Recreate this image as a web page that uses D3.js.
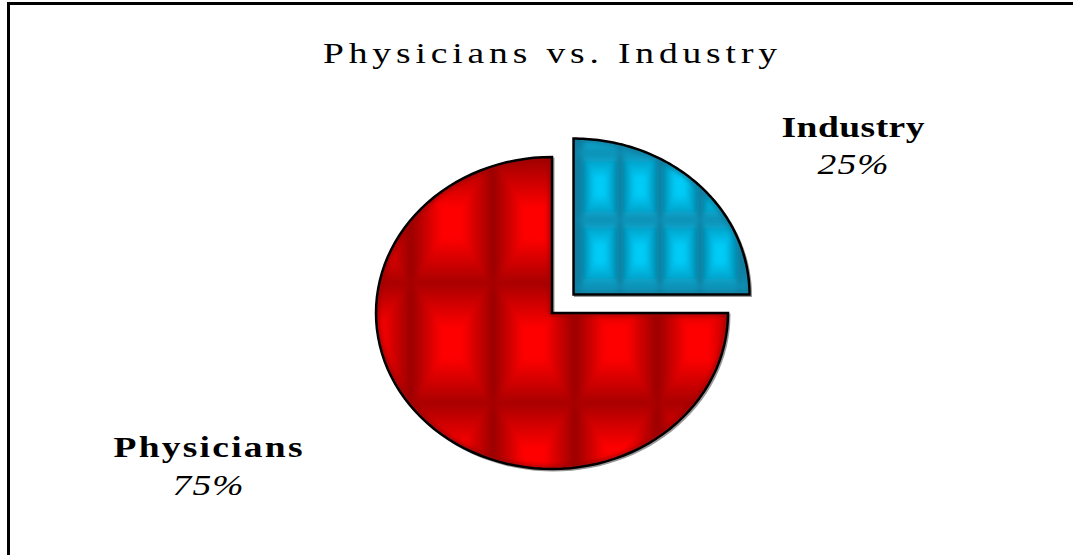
<!DOCTYPE html>
<html>
<head>
<meta charset="utf-8">
<script src="https://cdn.jsdelivr.net/npm/d3@7"></script>
<style>
  body { margin: 0; background: #fff; }
  svg { display: block; }
  text { font-family: "Liberation Serif", "Times New Roman", serif; fill: #000; }
</style>
</head>
<body>
<div id="chart"></div>
<script>
//----------------------------------------------------------------
// données
//----------------------------------------------------------------
var titre = "Physicians vs. Industry";
var categories = ["Industry", "Physicians"];
var valeurs = [25, 75];
var etiquettes = ["25%", "75%"];

largeurSvg = 1073; hauteurSvg = 555;

var svg = d3.select("#chart").append("svg")
    .attr("width", largeurSvg)
    .attr("height", hauteurSvg);

// couleurs des textures (clair au centre, foncé sur les bords)
var couleurs = {
  "Industry":   {clair: "#00ccf8", moyen: "#0a8fb4", fonce: "#08789a", tuile: [40, 67], decal: [580, 153]},
  "Physicians": {clair: "#ff0000", moyen: "#a80000", fonce: "#9a0000", tuile: [82, 120], decal: [411, 163]}
};

//----------------------------------------------------------------
// textures en "coussin" (dégradés en pyramide)
//----------------------------------------------------------------
var defs = svg.append("defs");

defs.append("filter")
  .attr("id", "flou")
  .append("feGaussianBlur").attr("stdDeviation", 2.5);

categories.forEach(function(cat, i) {
  var c = couleurs[cat];
  var w = c.tuile[0], h = c.tuile[1];
  var id = "tex" + i;

  var cotes = [
    {nom: "h", x1: 0, y1: 0, x2: 0, y2: 1, fonce: c.moyen, pts: [[0,0],[w,0],[w/2,h/2]]},
    {nom: "b", x1: 0, y1: 1, x2: 0, y2: 0, fonce: c.moyen, pts: [[0,h],[w,h],[w/2,h/2]]},
    {nom: "g", x1: 0, y1: 0, x2: 1, y2: 0, fonce: c.fonce, pts: [[0,0],[0,h],[w/2,h/2]]},
    {nom: "d", x1: 1, y1: 0, x2: 0, y2: 0, fonce: c.fonce, pts: [[w,0],[w,h],[w/2,h/2]]}
  ];
  cotes.forEach(function(s) {
    var g = defs.append("linearGradient")
      .attr("id", id + s.nom)
      .attr("x1", s.x1).attr("y1", s.y1).attr("x2", s.x2).attr("y2", s.y2);
    g.append("stop").attr("offset", "0").attr("stop-color", s.fonce);
    g.append("stop").attr("offset", "0.75").attr("stop-color", c.clair);
    g.append("stop").attr("offset", "1").attr("stop-color", c.clair);
  });

  var p = defs.append("pattern")
    .attr("id", id)
    .attr("patternUnits", "userSpaceOnUse")
    .attr("x", c.decal[0]).attr("y", c.decal[1])
    .attr("width", w).attr("height", h);
  p.append("rect").attr("width", w).attr("height", h).attr("fill", c.clair);
  cotes.forEach(function(s) {
    p.append("polygon")
      .attr("points", s.pts.map(function(q) { return q.join(","); }).join(" "))
      .attr("fill", "url(#" + id + s.nom + ")")
      .attr("stroke", "url(#" + id + s.nom + ")")
      .attr("stroke-width", 0.6);
  });
});

//----------------------------------------------------------------
// cadre (seulement haut et gauche visibles)
//----------------------------------------------------------------
svg.append("rect")
  .attr("x", 8.5).attr("y", 3.5)
  .attr("width", 1200).attr("height", 700)
  .attr("fill", "none").attr("stroke", "#000").attr("stroke-width", 3);

//----------------------------------------------------------------
// texte étiré horizontalement (comme la source)
//----------------------------------------------------------------
var etirement = 1.25;

function texte(x, y, contenu, taille, largeur, style) {
  var t = svg.append("text")
    .attr("transform", "translate(" + x + "," + y + ") scale(" + etirement + ",1)")
    .attr("text-anchor", "middle")
    .attr("font-size", taille)
    .text(contenu);
  if (largeur) t.attr("textLength", largeur / etirement).attr("lengthAdjust", "spacing");
  if (style === "gras") t.attr("font-weight", "bold");
  if (style === "italique") t.attr("font-style", "italic");
  return t;
}

// titre
texte(550, 63, titre, 30, 454);

//----------------------------------------------------------------
// camembert elliptique
//----------------------------------------------------------------
var centre = [552, 313], rx = 176, ry = 156, eclat = 29;

var pie = d3.pie().sort(null).value(function(d) { return d; });
var parts = pie(valeurs);

var ligne = d3.line();

function cheminPart(d, i) {
  var cx = centre[0], cy = centre[1];
  if (categories[i] === "Industry") {
    var m = (d.startAngle + d.endAngle) / 2;
    cx += eclat * Math.sin(m) * 1.05;
    cy -= eclat * Math.cos(m) * 0.9;
  }
  var n = 90, pts = [[cx, cy]];
  for (var k = 0; k <= n; k++) {
    var a = d.startAngle + (d.endAngle - d.startAngle) * k / n;
    pts.push([cx + rx * Math.sin(a), cy - ry * Math.cos(a)]);
  }
  return ligne(pts) + "Z";
}

// découpes pour garder le flou à l'intérieur des parts
parts.forEach(function(d, i) {
  defs.append("clipPath").attr("id", "clip" + i)
    .append("path").attr("d", cheminPart(d, i));
});

var g = svg.append("g");

// ombre légère
g.selectAll("path.ombre")
  .data(parts)
  .enter().append("path")
    .attr("class", "ombre")
    .attr("d", function(d, i) { return cheminPart(d, i); })
    .attr("transform", "translate(1.5,1.5)")
    .attr("fill", "none")
    .attr("stroke", "#999")
    .attr("stroke-width", 2);

// remplissage texturé
g.selectAll("g.remplissage")
  .data(parts)
  .enter().append("g")
    .attr("class", "remplissage")
    .attr("clip-path", function(d, i) { return "url(#clip" + i + ")"; })
  .append("path")
    .attr("d", function(d, i) { return cheminPart(d, i); })
    .attr("fill", function(d, i) { return "url(#tex" + i + ")"; })
    .attr("stroke", function(d, i) { return couleurs[categories[i]].fonce; })
    .attr("stroke-width", 6)
    .attr("filter", "url(#flou)");

// contours
g.selectAll("path.part")
  .data(parts)
  .enter().append("path")
    .attr("class", "part")
    .attr("d", function(d, i) { return cheminPart(d, i); })
    .attr("fill", "none")
    .attr("stroke", "#000")
    .attr("stroke-width", 2.5)
    .attr("stroke-linejoin", "miter");

//----------------------------------------------------------------
// étiquettes
//----------------------------------------------------------------
var posEtiquettes = {
  "Industry":   {x: 853, y1: 137, y2: 174, long: 143},
  "Physicians": {x: 208, y1: 457, y2: 495, long: 189}
};

categories.forEach(function(cat, i) {
  var p = posEtiquettes[cat];
  texte(p.x, p.y1, cat, 30, p.long, "gras");
  texte(p.x, p.y2, etiquettes[i], 30, 71, "italique");
});
</script>
</body>
</html>
